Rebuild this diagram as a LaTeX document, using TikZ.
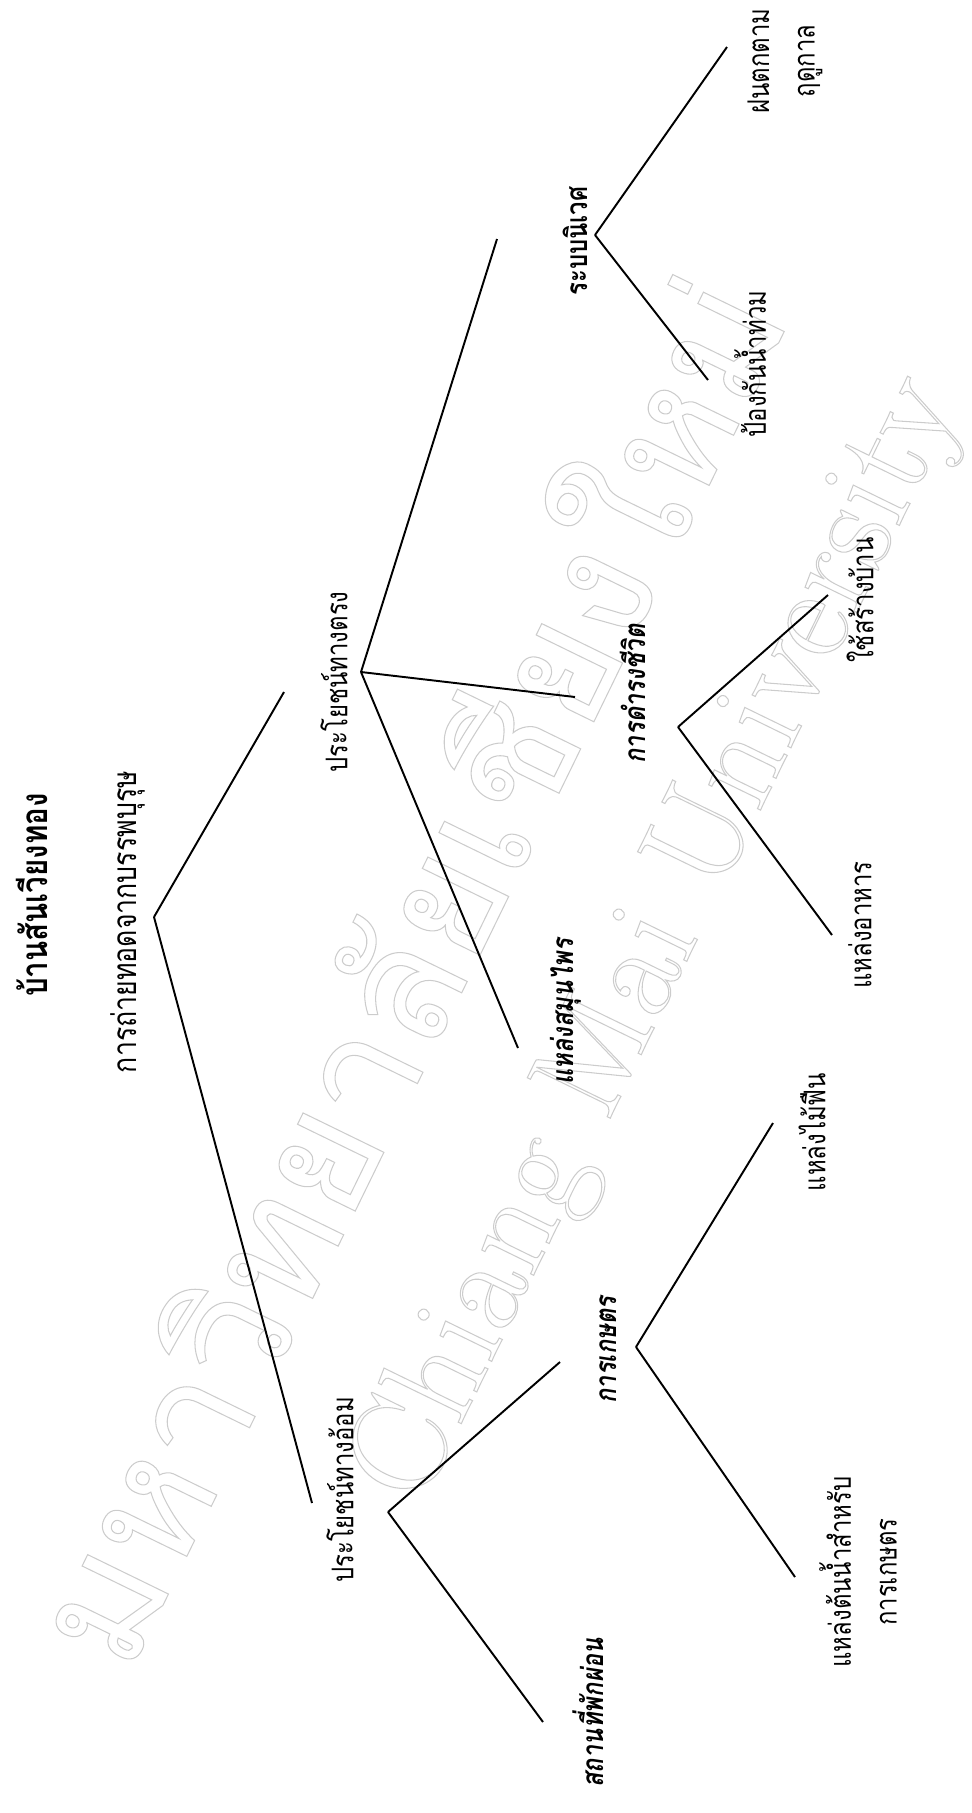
\documentclass[tikz,border=0pt]{standalone}
\usepackage{fontspec}
\newfontfamily\thaifont[Script=Thai,FakeStretch=0.8]{Loma}
\newfontfamily\thaislant[Script=Thai,FakeStretch=0.8,FakeSlant=0.15]{Loma}
\newfontfamily\wmfont[Script=Thai]{Loma}
\usepackage{tikz}
\tikzset{lbl/.style={font=\thaifont\fontsize{17}{26}\selectfont, rotate=90, align=center, inner sep=0pt},
  blbl/.style={lbl, font=\thaifont\bfseries\fontsize{17}{26}\selectfont},
  ilbl/.style={lbl, font=\thaislant\bfseries\fontsize{17}{26}\selectfont},
  wm/.style={text=gray!40, rotate=64, inner sep=0pt}}
\newcommand{\wmtext}[1]{\special{pdf:literal direct 1 Tr 0.6 w}#1\special{pdf:literal direct 0 Tr}}

\begin{document}
\begin{tikzpicture}[x=0.02cm, y=-0.02cm, line width=1.1pt]
\useasboundingbox (0,0) rectangle (971,1813);

\node[wm, font=\wmfont\fontsize{92}{100}\selectfont] (wmth) at (395,965) {\wmtext{มหาวิทยาลัยเชียงใหม่}};
\node[wm, font=\fontsize{77}{80}\selectfont] (wmen) at (660,940) {\wmtext{Chiang Mai University}};

\node[blbl, font=\thaifont\bfseries\fontsize{21}{26}\selectfont] (title) at (32,895) {บ้านสันเวียงทอง};
\node[lbl, font=\thaifont\fontsize{19}{26}\selectfont] (transfer) at (128,922) {การถ่ายทอดจากบรรพบุรุษ};
\node[lbl] (direct) at (334,682) {ประโยชน์ทางตรง};
\node[lbl] (indirect) at (340,1490) {ประโยชน์ทางอ้อม};
\node[blbl] (eco) at (575,241) {ระบบนิเวศ};
\node[ilbl] (life) at (633,694) {การดำรงชีวิต};
\node[ilbl] (herb) at (566,1012) {แหล่งสมุนไพร};
\node[ilbl] (agri) at (608,1350) {การเกษตร};
\node[ilbl] (rest) at (588,1713) {สถานที่พักผ่อน};
\node[lbl] (rain) at (785,61) {ฝนตกตาม\\ฤดูกาล};
\node[lbl] (flood) at (750,364) {ป้องกันน้ำท่วม};
\node[lbl] (house) at (860,600) {ใช้สร้างบ้าน};
\node[lbl] (food) at (860,925) {แหล่งอาหาร};
\node[lbl] (wood) at (812,1132) {แหล่งไม้ฟืน};
\node[lbl] (water) at (858,1572) {แหล่งต้นน้ำสำหรับ\\การเกษตร};

\coordinate (v0) at (154,917);
\coordinate (v0a) at (284,692);
\coordinate (v0b) at (312,1503);
\coordinate (v1) at (361,672);
\coordinate (v1a) at (497,239);
\coordinate (v1b) at (575,697);
\coordinate (v1c) at (518,1048);
\coordinate (v2) at (595,235);
\coordinate (v2a) at (727,47);
\coordinate (v2b) at (708,380);
\coordinate (v3) at (678,727);
\coordinate (v3a) at (828,595);
\coordinate (v3b) at (832,935);
\coordinate (v4) at (388,1512);
\coordinate (v4a) at (560,1362);
\coordinate (v4b) at (543,1722);
\coordinate (v5) at (636,1347);
\coordinate (v5a) at (773,1123);
\coordinate (v5b) at (795,1577);

\foreach \a/\b in {v0/v0a, v0/v0b, v1/v1a, v1/v1b, v1/v1c, v2/v2a, v2/v2b, v3/v3a, v3/v3b, v4/v4a, v4/v4b, v5/v5a, v5/v5b}
  \draw (\a) -- (\b);
\end{tikzpicture}
\end{document}
